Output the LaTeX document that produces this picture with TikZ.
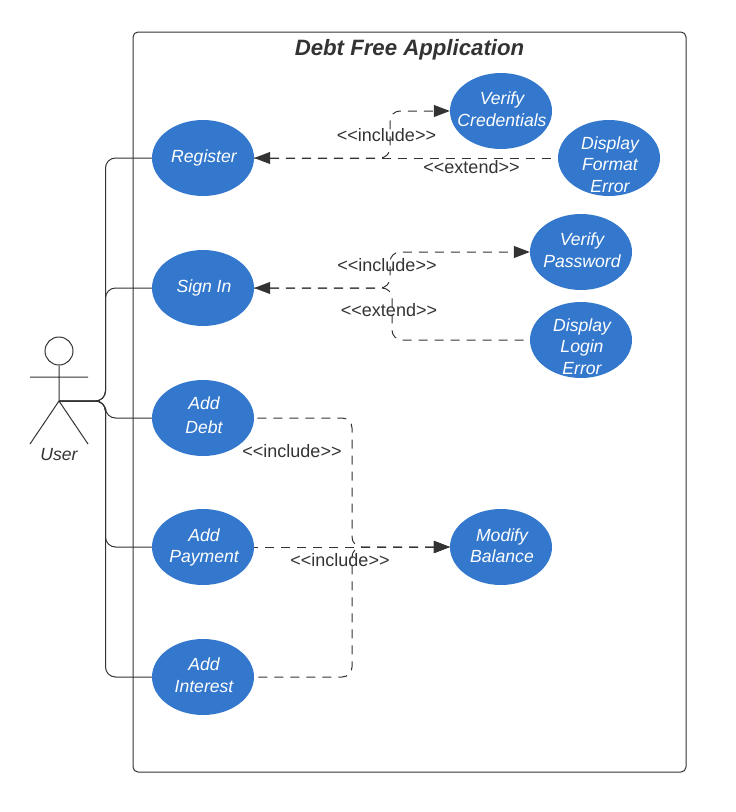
\documentclass[tikz,border=0pt]{standalone}
\usepackage{fontspec}
\setmainfont{Liberation Sans}
\usetikzlibrary{arrows.meta,shapes.geometric}
\definecolor{casefill}{HTML}{3378CC}
\definecolor{linegray}{HTML}{333333}
\newcommand{\casetext}[2]{\hspace*{2pt}\raisebox{#1}[0pt][0pt]{\begin{tabular}{@{}c@{}}#2\end{tabular}}}
\tikzset{
	usecase/.style={ellipse, fill=casefill, text=white, minimum width=102pt, minimum height=76pt, inner sep=-30pt, font=\fontsize{17.6}{21.5}\selectfont\itshape},
	assoc/.style={draw=linegray, line width=1pt, rounded corners=10pt},
	dep/.style={assoc, dash pattern=on 9pt off 7pt},
	depto/.style={dep, -{Triangle[length=16pt,width=12pt]}},
	depfrom/.style={dep, {Triangle[length=16pt,width=12pt]}-},
	deplabel/.style={text=linegray, font=\fontsize{18}{21.5}\selectfont, inner sep=0pt},
}
\begin{document}
\begin{tikzpicture}[x=1pt,y=-1pt]
	\useasboundingbox (0,0) rectangle (736,812);
	\draw[draw=linegray, line width=1pt, rounded corners=5pt] (133,32) rectangle (686,772);
	\node[text=linegray, font=\fontsize{22.2}{26}\selectfont\bfseries\itshape] (title) at (409.5,50) {Debt Free Application};

	\node[usecase] (register) at (203,158) {\casetext{-4.5pt}{Register}};
	\node[usecase] (signin) at (203,288) {\casetext{-4.5pt}{Sign In}};
	\node[usecase] (adddebt) at (203,418) {\casetext{-3.5pt}{Add\\[2.5pt]Debt}};
	\node[usecase] (addpayment) at (203,547) {\casetext{-5pt}{Add\\Payment}};
	\node[usecase] (addinterest) at (203,677) {\casetext{-4.5pt}{Add\\Interest}};
	\node[usecase] (credentials) at (501,111) {\casetext{-4.5pt}{Verify\\Credentials}};
	\node[usecase] (formaterror) at (609,158) {\casetext{-13pt}{Display\\Format\\Error}};
	\node[usecase] (password) at (581,252) {\casetext{-4.5pt}{Verify\\Password}};
	\node[usecase] (loginerror) at (581,340) {\casetext{-13pt}{Display\\Login\\Error}};
	\node[usecase] (balance) at (501,547) {\casetext{-5pt}{Modify\\Balance}};

	% actor
	\node[circle, draw=linegray, line width=1pt, minimum size=28pt, inner sep=0pt] (head) at (59,351) {};
	\coordinate (hip) at (59,401);
	\coordinate (armL) at (30,377);
	\coordinate (armR) at (88,377);
	\coordinate (footL) at (30,444);
	\coordinate (footR) at (88,444);
	\draw[draw=linegray, line width=1pt] (head)--(hip) (armL)--(armR) (footL)--(hip)--(footR);
	\node[text=linegray, font=\fontsize{17.6}{21.5}\selectfont\itshape, inner sep=0pt] (user) at (59,454.5) {User};

	% associations
	\coordinate (bus) at (105.5,401);
	\foreach \target in {register,signin,adddebt,addpayment,addinterest}
		\draw[assoc] (hip)--(bus)|-(\target);

	% include and extend
	\coordinate (regknee) at (390,158);
	\coordinate (signknee) at (390,288);
	\coordinate (signknee2) at (392,288);
	\coordinate (balknee) at (352,547);
	\draw[depfrom] (register.east)--(formaterror.west);
	\draw[depto] (register.east)--(regknee)|-(credentials.west);
	\draw[depto] (signin.east)--(signknee)|-(password.west);
	\draw[depfrom] (signin.east)--(signknee2)|-(loginerror.west);
	\draw[depfrom] (balance.west)--(balknee)|-(adddebt.east);
	\draw[depfrom] (balance.west)--(balknee)|-(addinterest.east);
	\draw[depfrom] (balance.west)--(addpayment.east);

	\node[deplabel] (incl1) at (386.5,135) {<{}<include>{}>};
	\node[deplabel] (ext1) at (471.5,167) {<{}<extend>{}>};
	\node[deplabel] (incl2) at (387,265) {<{}<include>{}>};
	\node[deplabel] (ext2) at (389,310) {<{}<extend>{}>};
	\node[deplabel] (incl3) at (292,451.5) {<{}<include>{}>};
	\node[deplabel] (incl4) at (340,560) {<{}<include>{}>};
\end{tikzpicture}
\end{document}
